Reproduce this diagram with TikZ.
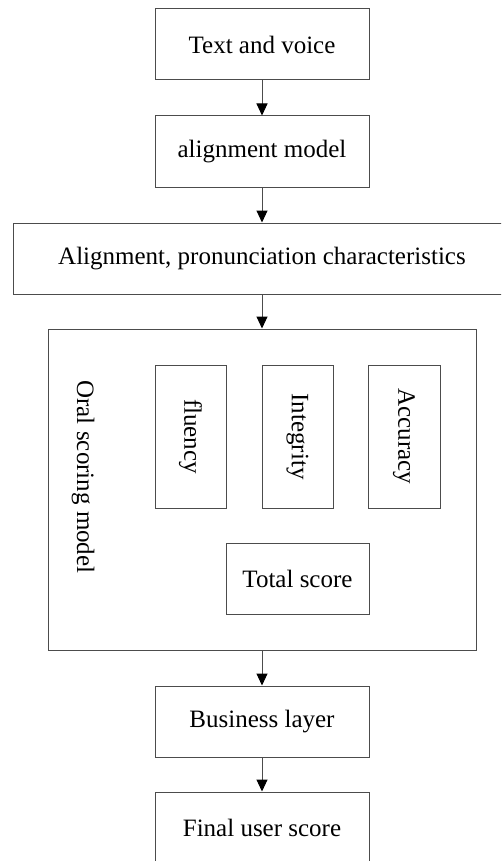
\documentclass[tikz,border=0pt]{standalone}
\usepackage{fontspec}
\setmainfont{Liberation Serif}
\usetikzlibrary{arrows.meta}
\begin{document}
\begin{tikzpicture}[x=1pt,y=-1pt,
  box/.style={draw=black!70, line width=1pt, fill=white, inner sep=0pt, font=\fontsize{25}{29}\selectfont, text=black},
  link/.style={draw=black!70, line width=1pt, -{Triangle[width=11pt,length=12pt,fill=black,color=black]}}]
\useasboundingbox (0,0) rectangle (501,861);
\clip (0,0) rectangle (501,861);
\node[box, minimum width=214pt, minimum height=71pt] (tv) at (262,44.5) {Text and voice};
\node[box, minimum width=214pt, minimum height=71pt] (am) at (262,151.5) {alignment model};
\node[box, minimum width=498pt, minimum height=71pt] (ap) at (262,258.5) {Alignment, pronunciation characteristics};
\node[box, minimum width=428pt, minimum height=321pt] (osm) at (262,489.5) {};
\node[box, draw=none, fill=none, rotate=-90] (oral) at (83,477) {Oral scoring model};
\node[box, minimum width=143pt, minimum height=71pt, rotate=-90] (fl) at (190.5,436.5) {fluency};
\node[box, minimum width=143pt, minimum height=71pt, rotate=-90] (in) at (297.5,436.5) {Integrity};
\node[box, minimum width=143pt, minimum height=72pt, rotate=-90] (ac) at (404,436.5) {Accuracy};
\node[box, minimum width=143pt, minimum height=71pt] (ts) at (297.5,578.5) {Total score};
\node[box, minimum width=214pt, minimum height=71pt] (bl) at (262,721.5) {Business layer};
\node[box, minimum width=214pt, minimum height=71pt] (fu) at (262,827.5) {Final user score};
\draw[link] (tv) -- (am);
\draw[link] (am) -- (ap);
\draw[link] (ap) -- (osm);
\draw[link] (osm) -- (bl);
\draw[link] (bl) -- (fu);
\end{tikzpicture}
\end{document}
